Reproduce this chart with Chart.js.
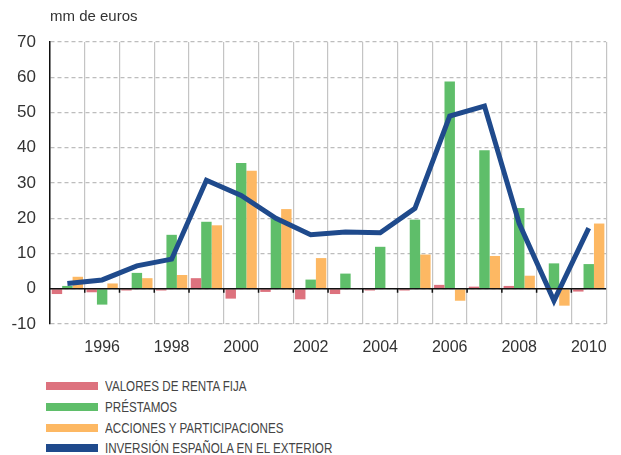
<!DOCTYPE html>
<html lang="es">
<head>
    <meta charset="UTF-8">
    <title>Inversión española en el exterior</title>
    <script src="https://cdn.jsdelivr.net/npm/chart.js@4.4.0/dist/chart.umd.min.js"></script>
    <style>
        body {
            margin: 0;
            background: #fff;
            font-family: Arial, "Liberation Sans", sans-serif;
        }
        #wrap {
            position: relative;
            width: 621px;
            height: 455px;
        }
        #legend {
            position: absolute;
            left: 46px;
            top: 376px;
            font-family: Arial, "Liberation Sans", sans-serif;
            font-size: 14px;
            color: #444;
        }
        .item {
            height: 20.7px;
            display: flex;
            align-items: center;
            white-space: nowrap;
        }
        .box {
            width: 52px;
            height: 8px;
            margin-right: 7px;
        }
        .txt {
            display: inline-block;
            transform: scaleX(0.83); /* the original uses a condensed face */
            transform-origin: left center;
        }
    </style>
</head>
<body>
<div id="wrap">
    <canvas id="chart" width="621" height="370"></canvas>
    <div id="legend"></div>
</div>

<script>
    // data (mm de euros)
    const years = ['1995', '1996', '1997', '1998', '1999', '2000', '2001', '2002',
                   '2003', '2004', '2005', '2006', '2007', '2008', '2009', '2010'];
    const rentaFija = [-1.5, -1, -0.5, -0.5, 3, -2.8, -0.9, -3, -1.5, -0.5, -0.5, 1.1, 0.6, 0.8, 0, -0.8];
    const prestamos = [0.8, -4.5, 4.5, 15.3, 19, 35.7, 20, 2.6, 4.3, 11.9, 19.6, 58.8, 39.3, 22.9, 7.2, 7];
    const acciones = [3.4, 1.5, 3, 3.9, 18, 33.5, 22.6, 8.7, 0.2, 0.2, 9.7, -3.4, 9.3, 3.7, -4.8, 18.5];
    const inversion = [1.5, 2.5, 6.5, 8.4, 30.8, 26.5, 20, 15.3, 16.1, 15.9, 22.8, 49, 51.8, 18.5, -3.4, 17.2];
    const yTicks = [-10, 0, 10, 20, 30, 40, 50, 60, 70];

    const colors = {
        renta: '#dd727e',
        prest: '#5fbe6a',
        acc: '#fdb863',
        inv: '#1f4a8c'
    };

    // black zero line with little tick marks at the year boundaries
    const zeroLine = {
        id: 'zeroLine',
        afterDatasetsDraw(chart) {
            const ctx = chart.ctx;
            const x = chart.scales.x;
            const y0 = chart.scales.y.getPixelForValue(0);
            const area = chart.chartArea;
            ctx.save();
            ctx.strokeStyle = '#111';
            ctx.lineWidth = 1.5;
            ctx.beginPath();
            ctx.moveTo(area.left, y0);
            ctx.lineTo(area.right, y0);
            for (let i = 1; i < years.length; i++) {
                const bx = (x.getPixelForValue(i - 1) + x.getPixelForValue(i)) / 2;
                ctx.moveTo(bx, y0);
                ctx.lineTo(bx, y0 + 4);
            }
            ctx.stroke();
            ctx.restore();
        }
    };

    const ctx = document.getElementById('chart').getContext('2d');
    const chart = new Chart(ctx, {
        type: 'bar',
        data: {
            labels: years,
            datasets: [
                {
                    type: 'line',
                    label: 'INVERSIÓN ESPAÑOLA EN EL EXTERIOR',
                    data: inversion,
                    borderColor: colors.inv,
                    backgroundColor: colors.inv,
                    borderWidth: 5,
                    pointRadius: 0,
                    tension: 0,
                    order: 0
                },
                {
                    label: 'VALORES DE RENTA FIJA',
                    data: rentaFija,
                    backgroundColor: colors.renta,
                    order: 1
                },
                {
                    label: 'PRÉSTAMOS',
                    data: prestamos,
                    backgroundColor: colors.prest,
                    order: 1
                },
                {
                    label: 'ACCIONES Y PARTICIPACIONES',
                    data: acciones,
                    backgroundColor: colors.acc,
                    order: 1
                }
            ]
        },
        options: {
            responsive: false,
            animation: false,
            datasets: {
                bar: {
                    categoryPercentage: 0.9,
                    barPercentage: 1.0
                }
            },
            layout: {
                padding: { left: 0, right: 3, top: 0, bottom: 0 }
            },
            plugins: {
                legend: { display: false },
                tooltip: { enabled: false },
                title: {
                    display: true,
                    text: 'mm de euros',
                    align: 'start',
                    fullSize: false,
                    color: '#333',
                    font: { size: 15, weight: 'normal', family: 'Arial, "Liberation Sans", sans-serif' },
                    padding: { top: 8, bottom: 16 }
                }
            },
            scales: {
                x: {
                    grid: {
                        offset: true,
                        color: '#c4c4c4',
                        lineWidth: 1.2,
                        drawTicks: false
                    },
                    border: { display: false },
                    ticks: {
                        autoSkip: false,
                        maxRotation: 0,
                        padding: 14,
                        color: '#333',
                        font: { size: 16, family: 'Arial, "Liberation Sans", sans-serif' },
                        callback: function (value, index) {
                            const label = years[index];
                            return Number(label) % 2 === 0 ? label : '';
                        }
                    },
                    afterFit(scale) {
                        scale.height = 46;
                    }
                },
                y: {
                    min: -10,
                    max: 70,
                    afterBuildTicks(scale) {
                        scale.ticks = yTicks.map(v => ({ value: v }));
                    },
                    grid: {
                        color: '#bdbdbd',
                        lineWidth: 1.2,
                        drawTicks: false
                    },
                    border: {
                        display: true,
                        color: '#111',
                        width: 1.5,
                        dash: [4, 3]
                    },
                    ticks: {
                        padding: 14,
                        color: '#333',
                        font: { size: 17, family: 'Arial, "Liberation Sans", sans-serif' }
                    },
                    afterFit(scale) {
                        scale.width = 50;
                    }
                }
            }
        },
        plugins: [zeroLine]
    });

    // legend below the chart
    const legendItems = [
        ['VALORES DE RENTA FIJA', colors.renta],
        ['PRÉSTAMOS', colors.prest],
        ['ACCIONES Y PARTICIPACIONES', colors.acc],
        ['INVERSIÓN ESPAÑOLA EN EL EXTERIOR', colors.inv]
    ];
    const legend = document.getElementById('legend');
    legendItems.forEach(([text, color]) => {
        const row = document.createElement('div');
        row.className = 'item';
        const box = document.createElement('span');
        box.className = 'box';
        box.style.background = color;
        const label = document.createElement('span');
        label.className = 'txt';
        label.textContent = text;
        row.appendChild(box);
        row.appendChild(label);
        legend.appendChild(row);
    });
</script>
</body>
</html>
